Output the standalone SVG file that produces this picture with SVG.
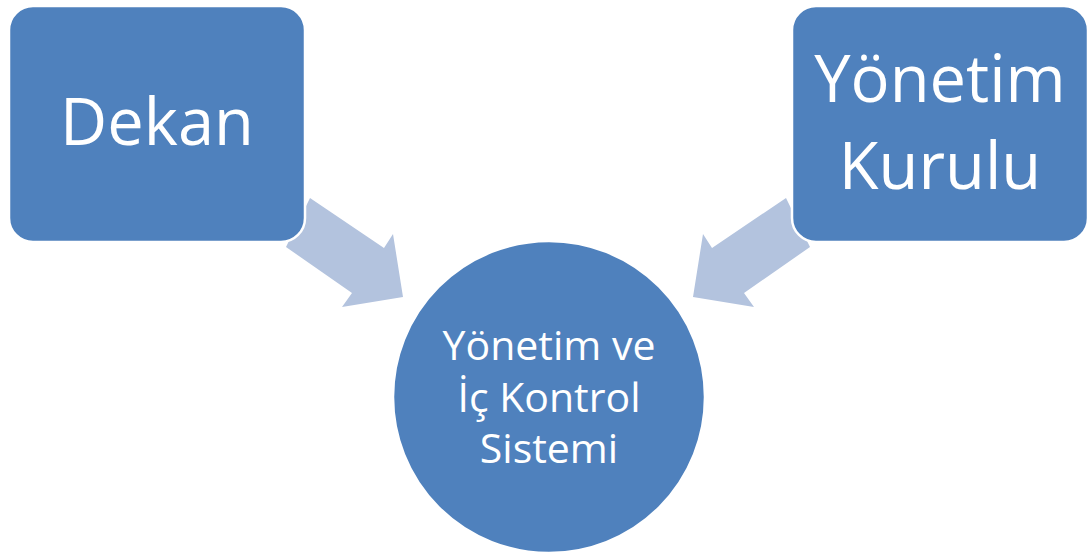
<svg xmlns="http://www.w3.org/2000/svg" width="1091" height="553" viewBox="0 0 1091 553">
<style>
.node{fill:#4F81BD;stroke:#FFFFFF;stroke-width:2.5}
.arrow{fill:#B3C3DE;stroke:none}
.lbl{fill:#FFFFFF;font-family:"Open Sans","Noto Sans",sans-serif;text-anchor:middle}
.big{font-size:65px}
.small{font-size:41px}
</style>
<rect width="1091" height="553" fill="#FFFFFF"/>
<g id="connectors">
<polygon class="arrow" points="310,198 384,248 393,234 403,297 342,307 352,293 286,247"/>
<polygon class="arrow" points="786,198 712,248 703,234 693,297 754,307 744,293 810,247"/>
</g>
<g id="node-dekan">
<rect class="node" x="9" y="6" width="296" height="236" rx="24" ry="24"/>
<text class="lbl big" x="157" y="145">Dekan</text>
</g>
<g id="node-yonetim-kurulu">
<rect class="node" x="792" y="6" width="296" height="236" rx="24" ry="24"/>
<text class="lbl big" x="940" y="102">Yönetim</text>
<text class="lbl big" x="940" y="189">Kurulu</text>
</g>
<g id="node-sistem">
<circle class="node" cx="549" cy="397" r="156"/>
<text class="lbl small" x="549" y="360">Yönetim ve</text>
<text class="lbl small" x="549" y="412">İç Kontrol</text>
<text class="lbl small" x="549" y="463">Sistemi</text>
</g>
</svg>
